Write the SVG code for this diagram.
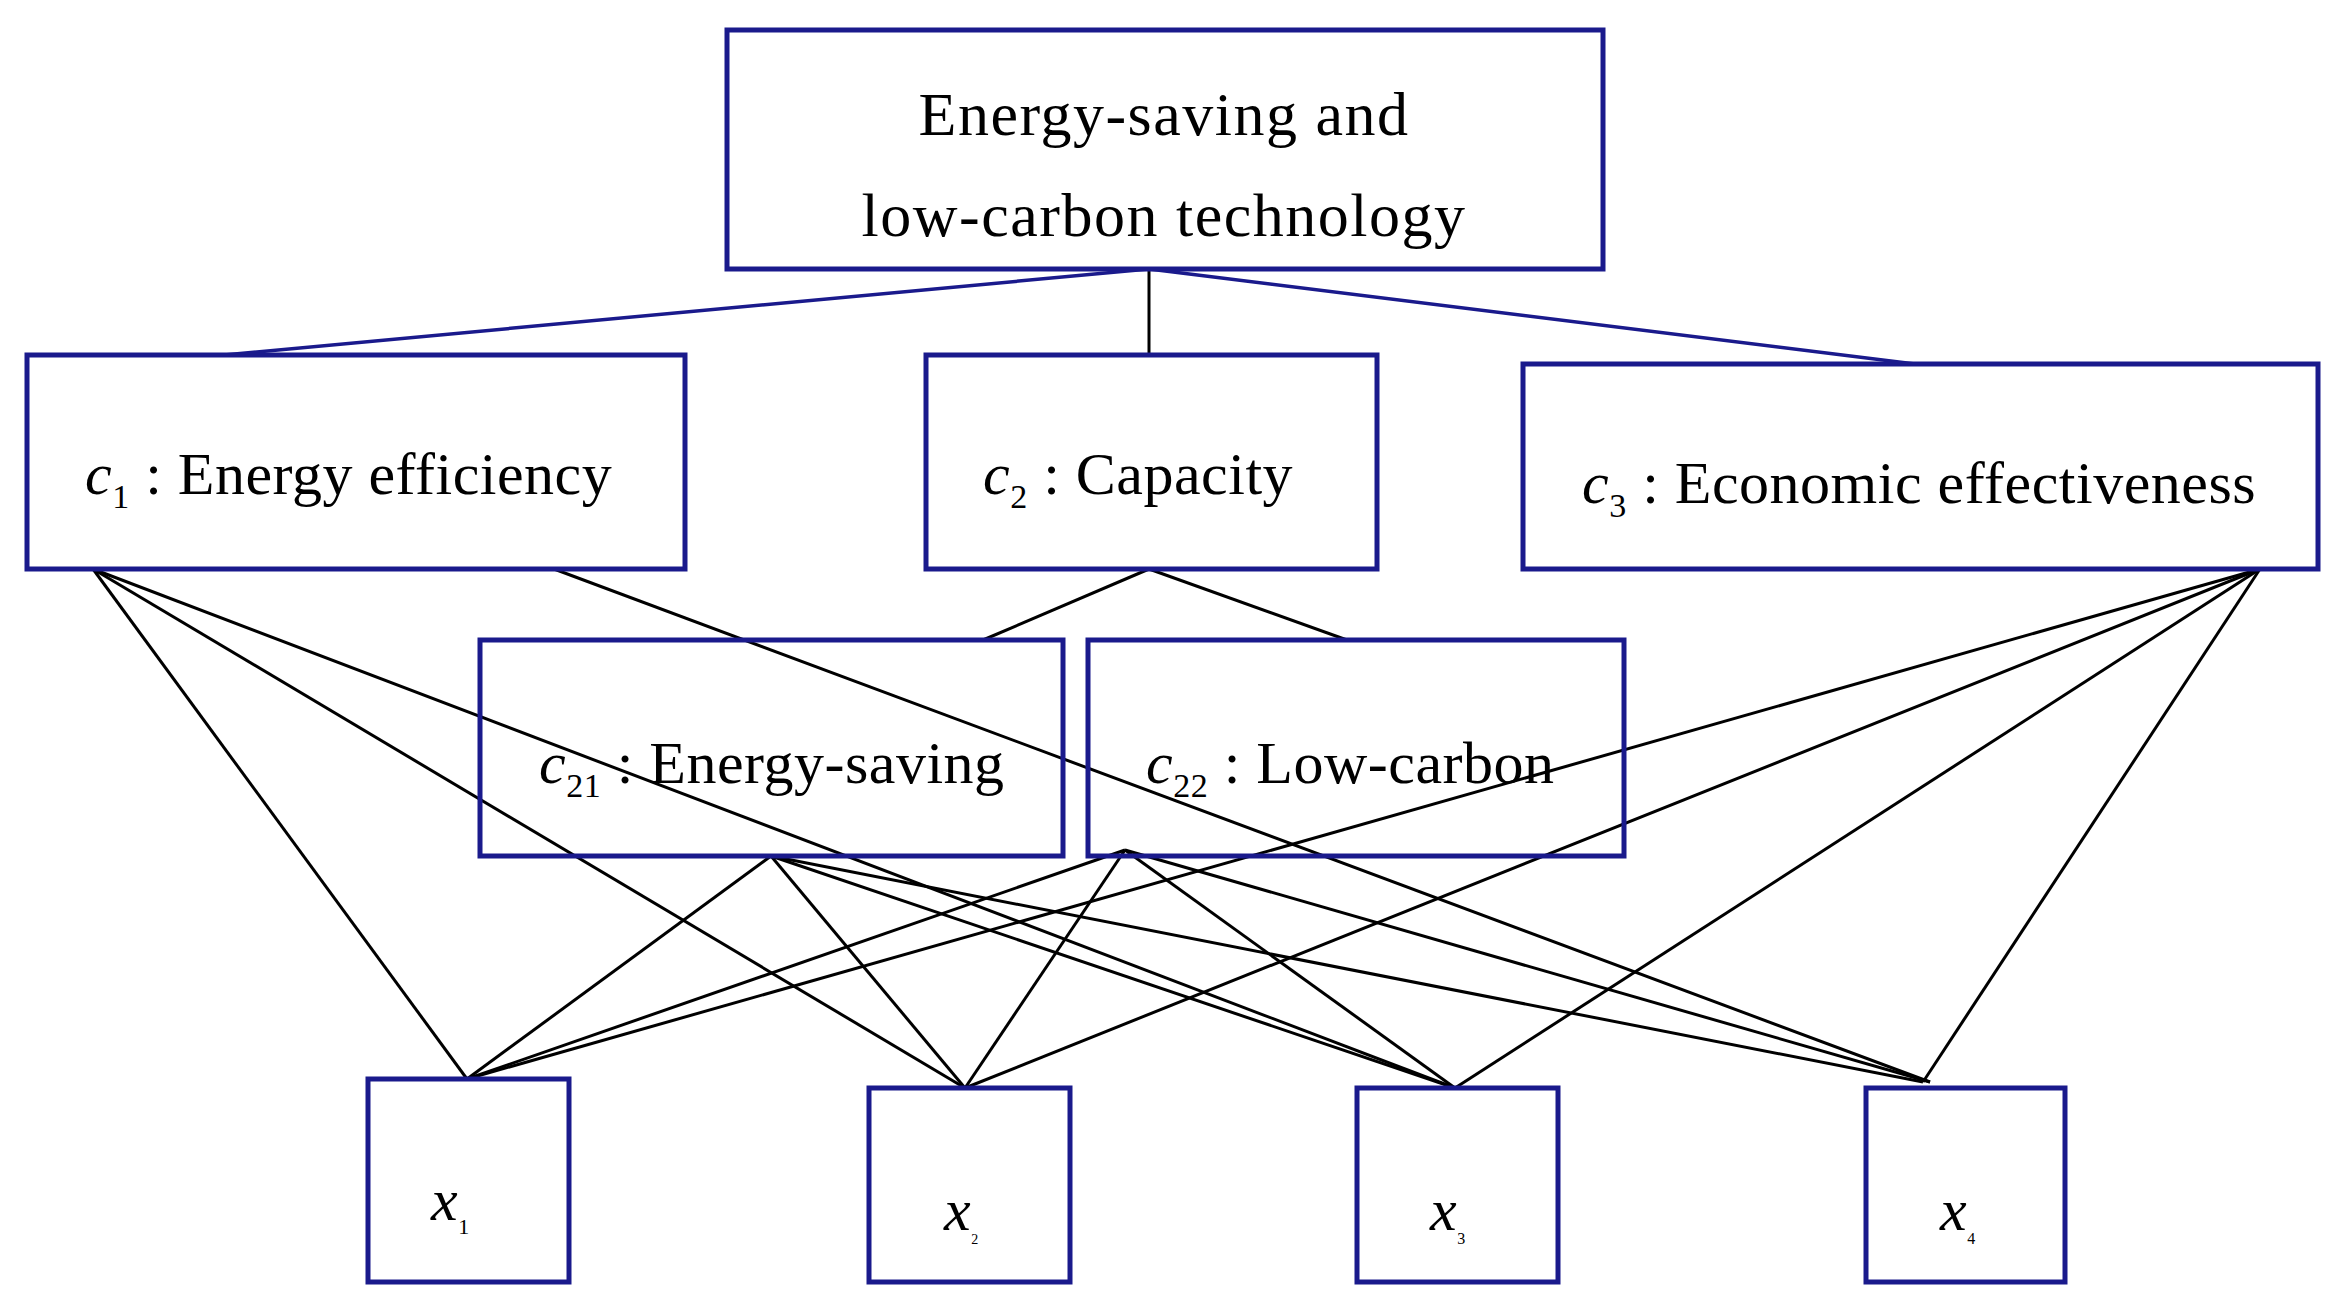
<svg xmlns="http://www.w3.org/2000/svg" width="2339" height="1312" viewBox="0 0 2339 1312">
<style>
.box{fill:#fff;stroke:#1a1a8c;stroke-width:5}
.t{font-family:"Liberation Serif",serif;font-size:60px;fill:#000;letter-spacing:0.5px}
.top{font-size:62px;letter-spacing:1.5px}
.i{font-style:italic}
.s{font-size:34px}
.bl{stroke:#1a1a8c;stroke-width:3.5;fill:none}
.k{stroke:#000;stroke-width:3;fill:none}
</style>
<rect width="2339" height="1312" fill="#fff"/>
<g id="connectors">
<line class="bl" x1="1149" y1="269" x2="224" y2="355"/>
<line class="k" x1="1149" y1="269" x2="1149" y2="355"/>
<line class="bl" x1="1149" y1="269" x2="1915" y2="364"/>
<line class="k" x1="1149" y1="569" x2="983" y2="640"/>
<line class="k" x1="1149" y1="569" x2="1347" y2="640"/>
<line class="k" x1="93" y1="569" x2="467" y2="1079"/>
<line class="k" x1="93" y1="569" x2="965" y2="1088"/>
<line class="k" x1="93" y1="569" x2="1455" y2="1088"/>
<line class="k" x1="554" y1="569" x2="1930" y2="1082"/>
<line class="k" x1="771" y1="856" x2="467" y2="1079"/>
<line class="k" x1="771" y1="856" x2="965" y2="1088"/>
<line class="k" x1="771" y1="856" x2="1455" y2="1088"/>
<line class="k" x1="771" y1="856" x2="1923" y2="1082"/>
<line class="k" x1="1125" y1="850" x2="467" y2="1079"/>
<line class="k" x1="1125" y1="850" x2="965" y2="1088"/>
<line class="k" x1="1125" y1="850" x2="1455" y2="1088"/>
<line class="k" x1="1125" y1="850" x2="1930" y2="1082"/>
<line class="k" x1="2260" y1="569" x2="467" y2="1079"/>
<line class="k" x1="2260" y1="569" x2="965" y2="1088"/>
<line class="k" x1="2260" y1="569" x2="1455" y2="1088"/>
<line class="k" x1="2260" y1="569" x2="1923" y2="1082"/>
</g>
<g id="top"><rect class="box" x="727" y="30" width="876" height="239"/>
<text class="t top" x="1164" y="135" text-anchor="middle">Energy-saving and</text>
<text class="t top" x="1164" y="236" text-anchor="middle">low-carbon technology</text></g>
<g id="c1"><rect class="box" x="27" y="355" width="658" height="214"/>
<text class="t" x="85" y="494"><tspan class="i">c</tspan><tspan class="s" dy="14">1</tspan><tspan dy="-14"> : Energy efficiency</tspan></text></g>
<g id="c2"><rect class="box" x="926" y="355" width="451" height="214"/>
<text class="t" x="983" y="494"><tspan class="i">c</tspan><tspan class="s" dy="14">2</tspan><tspan dy="-14"> : Capacity</tspan></text></g>
<g id="c3"><rect class="box" x="1523" y="364" width="795" height="205"/>
<text class="t" x="1582" y="503"><tspan class="i">c</tspan><tspan class="s" dy="14">3</tspan><tspan dy="-14"> : Economic effectiveness</tspan></text></g>
<g id="c21"><rect class="box" x="480" y="640" width="583" height="216" style="fill:none"/>
<text class="t" x="539" y="783"><tspan class="i">c</tspan><tspan class="s" dy="14">21</tspan><tspan dy="-14"> : Energy-saving</tspan></text></g>
<g id="c22"><rect class="box" x="1088" y="640" width="536" height="216" style="fill:none"/>
<text class="t" x="1146" y="783"><tspan class="i">c</tspan><tspan class="s" dy="14">22</tspan><tspan dy="-14"> : Low-carbon</tspan></text></g>
<g id="x1"><rect class="box" x="368" y="1079" width="201" height="203"/>
<text class="t i" x="431" y="1220">x<tspan style="font-style:normal;font-size:22px" dy="14">1</tspan></text></g>
<g id="x2"><rect class="box" x="869" y="1088" width="201" height="194"/>
<text class="t i" x="944" y="1230">x<tspan style="font-style:normal;font-size:14px" dy="14">2</tspan></text></g>
<g id="x3"><rect class="box" x="1357" y="1088" width="201" height="194"/>
<text class="t i" x="1430" y="1230">x<tspan style="font-style:normal;font-size:16px" dy="14">3</tspan></text></g>
<g id="x4"><rect class="box" x="1866" y="1088" width="199" height="194"/>
<text class="t i" x="1940" y="1230">x<tspan style="font-style:normal;font-size:16px" dy="14">4</tspan></text></g>
</svg>
